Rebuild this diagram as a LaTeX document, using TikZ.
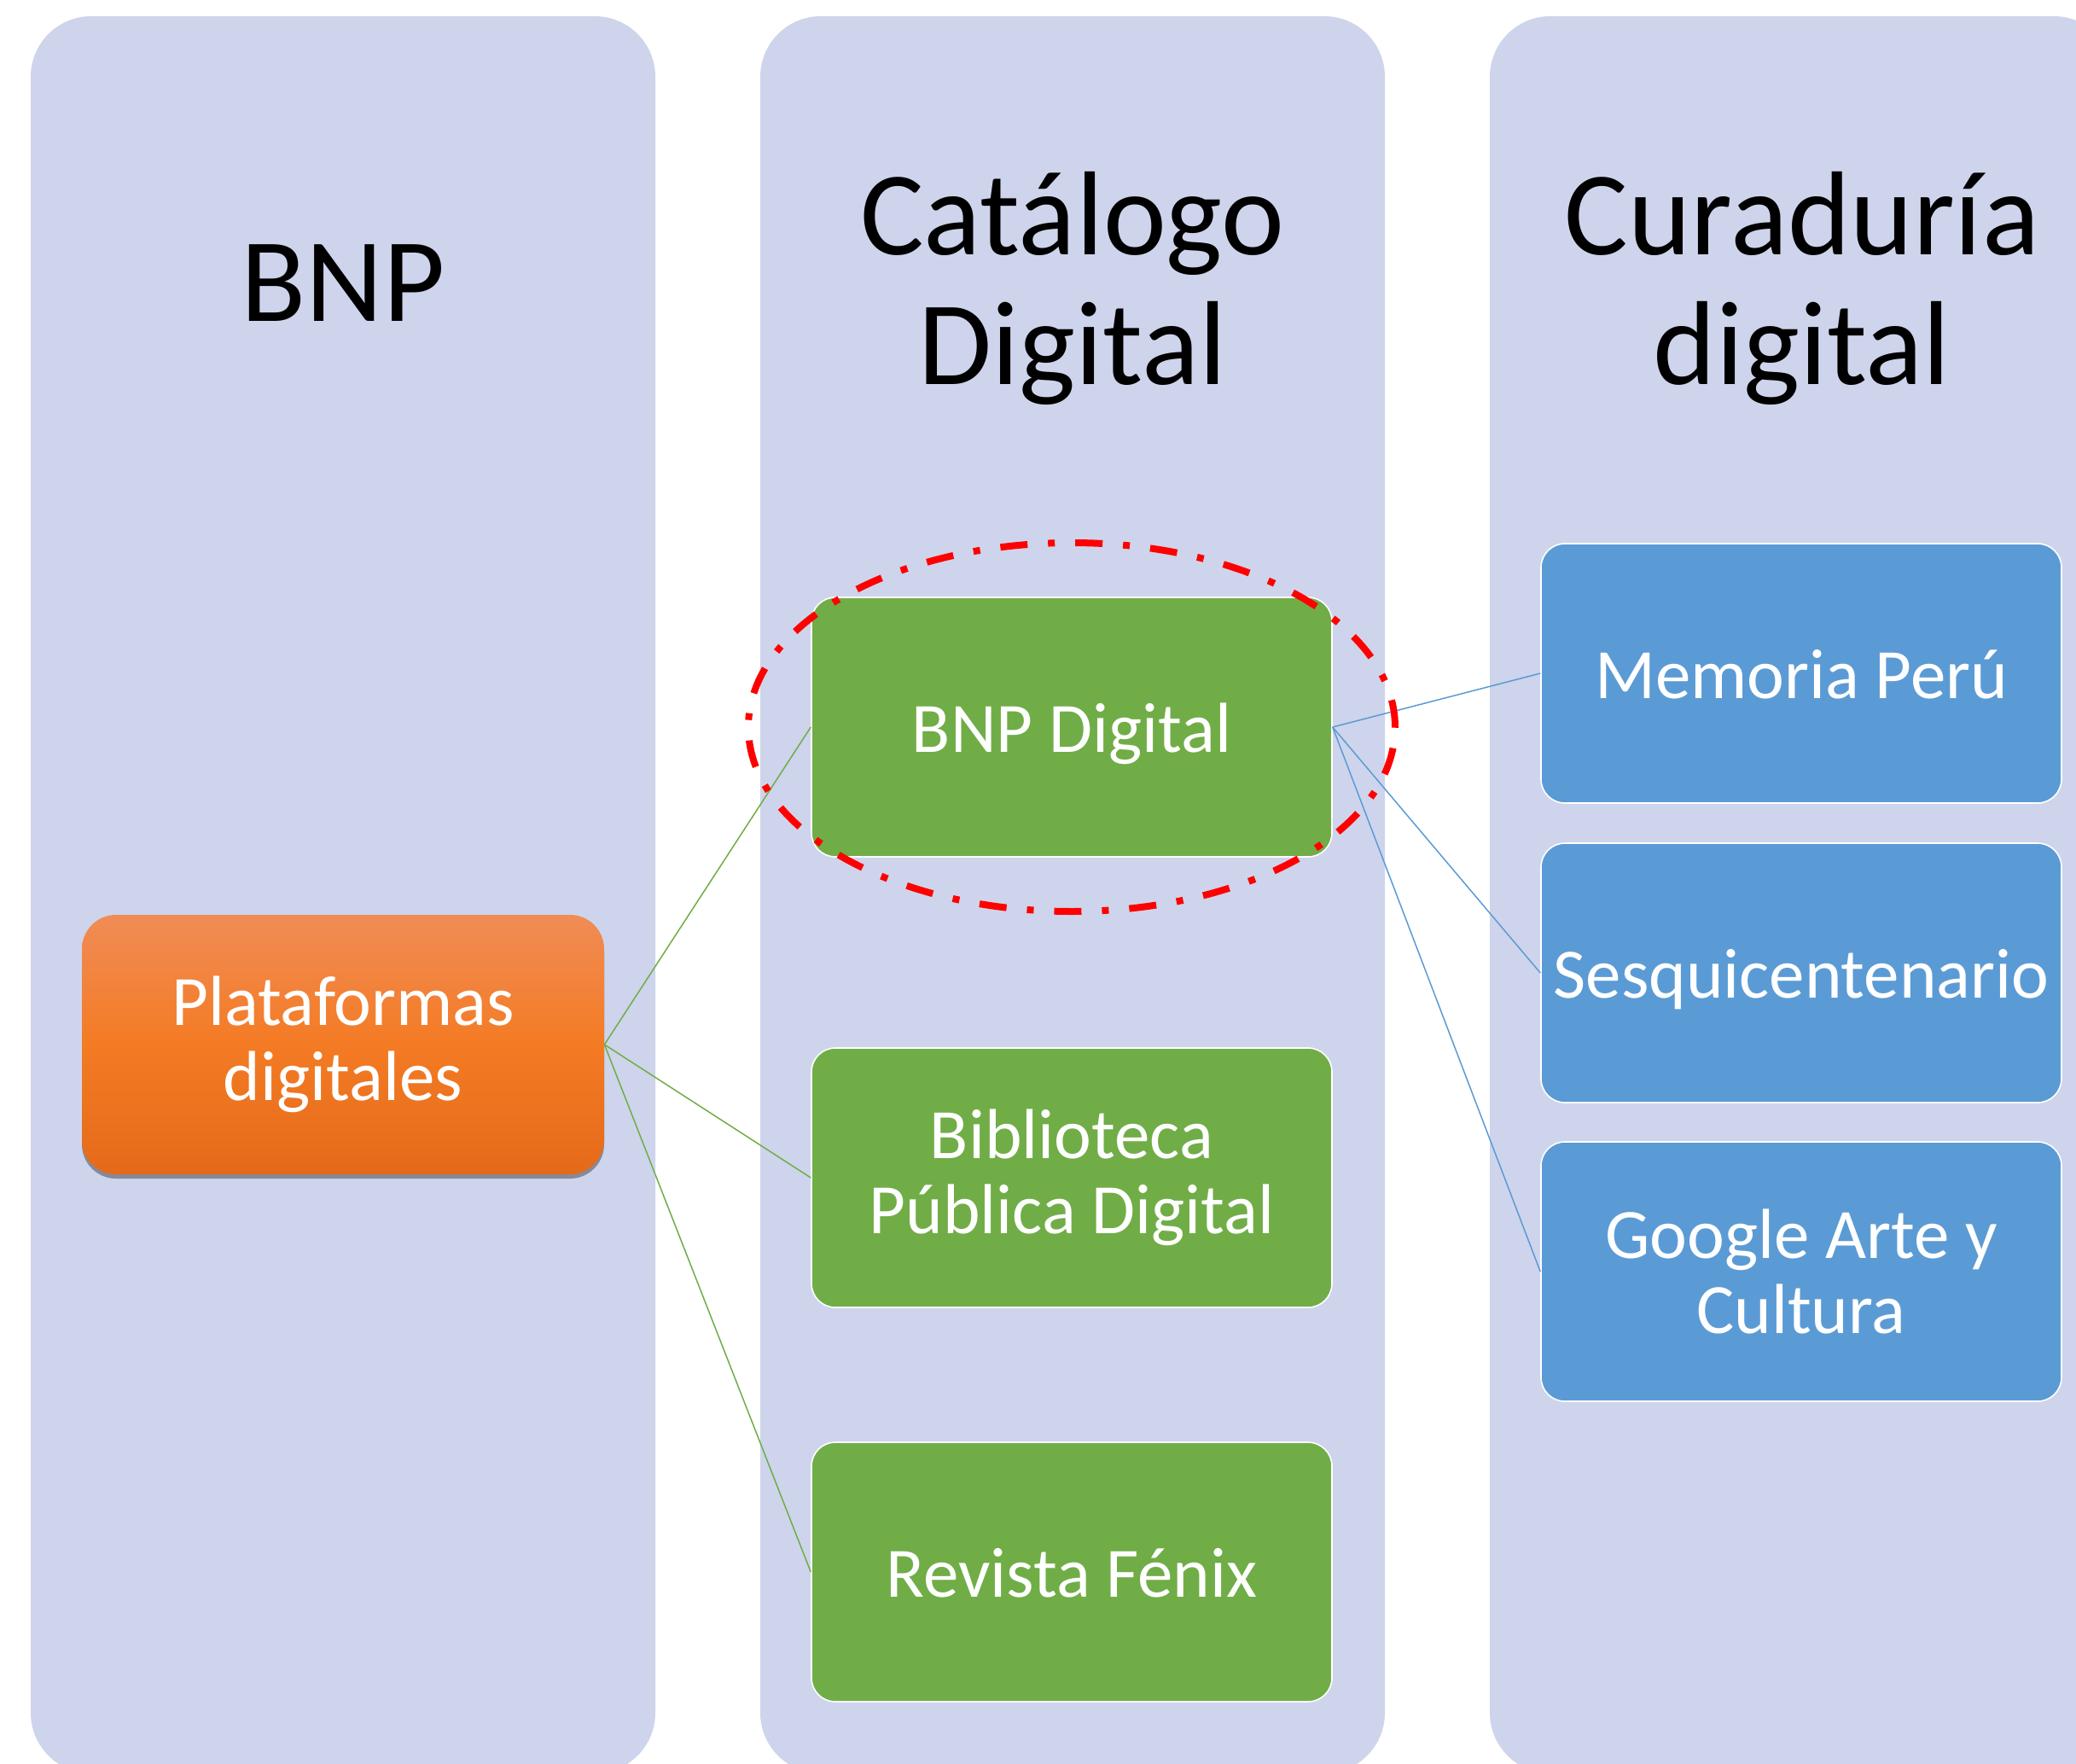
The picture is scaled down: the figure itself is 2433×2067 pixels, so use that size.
\documentclass[tikz,border=0pt]{standalone}
\usepackage{fontspec}
\setmainfont{Carlito}
\usetikzlibrary{shapes.geometric,shadows}
\definecolor{colfill}{RGB}{206,212,235}
\definecolor{grn}{RGB}{112,173,71}
\definecolor{blu}{RGB}{91,155,213}
\definecolor{orgtop}{RGB}{240,140,86}
\definecolor{orgmid}{RGB}{244,123,36}
\definecolor{orgbot}{RGB}{228,106,26}
\definecolor{redline}{RGB}{255,0,0}
\begin{document}
\begin{tikzpicture}[x=0.5pt,y=-0.5pt,
  column/.style={fill=colfill, draw=none, rounded corners=35.5pt},
  coltitle/.style={font=\fontsize{70pt}{76pt}\selectfont, align=center, text=black, inner sep=0pt},
  boxbase/.style={rounded corners=14pt, minimum width=305pt, minimum height=152pt, inner sep=0pt, text=white, align=center, font=\fontsize{41.5pt}{44pt}\selectfont},
  oneline/.style={text height=29pt, text depth=0pt},
  greenbox/.style={boxbase, draw=white, line width=0.8pt, fill=grn},
  bluebox/.style={boxbase, draw=white, line width=0.8pt, fill=blu},
  orangebox/.style={boxbase, rounded corners=20pt, minimum width=306pt, top color=orgtop, bottom color=orgbot, middle color=orgmid,
    drop shadow={shadow xshift=0pt, shadow yshift=-2.5pt, opacity=0.35, fill=black}},
  greenlink/.style={draw=grn, line width=0.75pt},
  bluelink/.style={draw=blu, line width=0.75pt},
  highlight/.style={ellipse, draw=redline, line width=4pt, dash pattern=on 16pt off 12pt on 4pt off 12pt, minimum width=379pt, minimum height=216pt, inner sep=0pt}
]
\useasboundingbox (0,0) rectangle (2433,2067);
\clip (0,0) rectangle (2433,2067);
\fill[white] (0,0) rectangle (2433,2067);
% columns
\path[column] (36,19) rectangle (768,2078);
\path[column] (891,19) rectangle (1623,2078);
\path[column] (1746,19) rectangle (2478,2078);
% titles
\node[coltitle] (t1) at (402,332) {BNP};
\node[coltitle] (t2) at (1257,338) {Catálogo\\Digital};
\node[coltitle] (t3) at (2112,338) {Curaduría\\digital};
% boxes
\node[orangebox] (plat) at (402,1224) {Plataformas\\digitales};
\node[greenbox, oneline] (bnpd) at (1256,852) {BNP Digital};
\node[greenbox] (bpd) at (1256,1380) {Biblioteca\\Pública Digital};
\node[greenbox, oneline] (fenix) at (1256,1842) {Revista Fénix};
\node[bluebox, oneline] (mem) at (2111,789) {Memoria Perú};
\node[bluebox, oneline] (sesq) at (2111,1140) {Sesquicentenario};
\node[bluebox] (goog) at (2111,1490) {Google Arte y\\Cultura};
% connectors
\draw[greenlink] (plat.east) -- (bnpd.west);
\draw[greenlink] (plat.east) -- (bpd.west);
\draw[greenlink] (plat.east) -- (fenix.west);
\draw[bluelink] (bnpd.east) -- (mem.west);
\draw[bluelink] (bnpd.east) -- (sesq.west);
\draw[bluelink] (bnpd.east) -- (goog.west);
% highlight ellipse
\node[highlight] (hl) at (bnpd.center) {};
\end{tikzpicture}
\end{document}
